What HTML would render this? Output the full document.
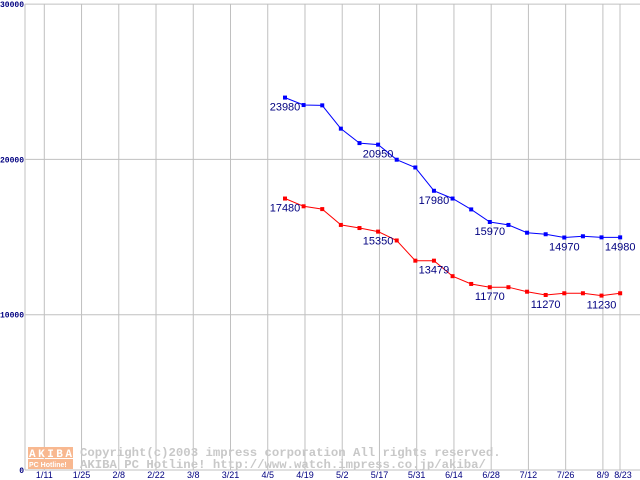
<!DOCTYPE html>
<html><head><meta charset="utf-8"><style>
html,body{margin:0;padding:0;background:#fff;width:640px;height:480px;overflow:hidden}
svg{display:block}
</style></head><body>
<svg id="chart" width="640" height="480" xmlns="http://www.w3.org/2000/svg" font-family="Liberation Sans, sans-serif">
<g id="grid"></g>
<g id="watermark">
 <rect x="28" y="447" width="45" height="11" fill="#f8b890"/>
 <rect x="28" y="459" width="45" height="10" fill="#f8b890"/>
 <text x="29" y="457" font-size="11" font-weight="bold" fill="#fff" font-family="Liberation Mono, monospace" textLength="43">AKIBA</text>
 <text x="29" y="467" font-size="7" font-weight="bold" fill="#fff">PC Hotline!</text>
 <text x="80" y="456" font-size="12.3" font-weight="bold" fill="#c8c8c8" font-family="Liberation Mono, monospace">Copyright(c)2003 impress corporation All rights reserved.</text>
 <text x="80" y="468" font-size="12.3" font-weight="bold" fill="#c8c8c8" font-family="Liberation Mono, monospace">AKIBA PC Hotline!  http://www.watch.impress.co.jp/akiba/</text>
</g>
<g id="series"></g>
</svg>
<script>
const xLabels=["1/11","1/25","2/8","2/22","3/8","3/21","4/5","4/19","5/2","5/17","5/31","6/14","6/28","7/12","7/26","8/9","8/23"];
const yTicks=[0,10000,20000,30000];
const blueValues=[23980,23500,23480,21980,21050,20950,19980,19480,17980,17480,16780,15970,15780,15280,15180,14970,15050,14980,14980];
const redValues=[17480,16980,16800,15780,15580,15350,14780,13479,13479,12480,11980,11770,11770,11480,11270,11380,11380,11230,11380];
const blueLabelIdx=[0,5,8,11,15,18];
const redLabelIdx=[0,5,8,11,14,17];
const NS="http://www.w3.org/2000/svg";
const X0=44.3, WEEK=18.62, Y0=470, YS=0.01553;
function xGrid(i){return i<16?X0+i*2*WEEK:620;}
function xPt(i){return 285+i*WEEK;}
function yv(v){return Y0-v*YS;}
function mk(tag,attrs,parent){const e=document.createElementNS(NS,tag);for(const k in attrs)e.setAttribute(k,attrs[k]);parent.appendChild(e);return e;}
const grid=document.getElementById('grid');
yTicks.forEach((t,i)=>{
 const y=yv(t);
 const l=mk('line',{x1:25,x2:640,y1:y,y2:y,stroke:'#c0c0c0','stroke-width':1},grid);
 
 
 const tx=mk('text',{x:24,y:y+3,'text-anchor':'end','font-size':8,'font-weight':'bold',fill:'#000080','font-family':'Liberation Mono, monospace'},grid);
 tx.textContent=String(t);
 
 
});
const ax=mk('line',{x1:25,x2:25,y1:4,y2:470,stroke:'#c0c0c0'},grid);


xLabels.forEach((s,i)=>{
 const x=xGrid(i);
 const l=mk('line',{x1:x,x2:x,y1:4,y2:470,stroke:'#c0c0c0'},grid);
 
 
 const tx=mk('text',{x:i==16?623:x,y:478,'text-anchor':'middle','font-size':9,fill:'#000080','font-family':'Liberation Sans, sans-serif'},grid);
 tx.textContent=s;
 
 
});
const ser=document.getElementById('series');
function draw(vals,color,labelIdx,name){
 const pts=vals.map((v,i)=>xPt(i).toFixed(1)+','+yv(v).toFixed(1)).join(' ');
 const pl=mk('polyline',{points:pts,fill:'none',stroke:color,'stroke-width':1},ser);
 
 
 vals.forEach((v,i)=>{
  const r=mk('rect',{x:xPt(i)-2,y:yv(v)-2,width:4,height:4,fill:color},ser);
  
  
 });
 labelIdx.forEach(i=>{
  const t=mk('text',{x:xPt(i),y:yv(vals[i])+13,'text-anchor':'middle','font-size':11,fill:'#000080'},ser);
  t.textContent=String(vals[i]);
  
  
 });
}
draw(blueValues,'#0000ff',blueLabelIdx,'blue-series');
draw(redValues,'#ff0000',redLabelIdx,'red-series');
</script>
</body></html>
